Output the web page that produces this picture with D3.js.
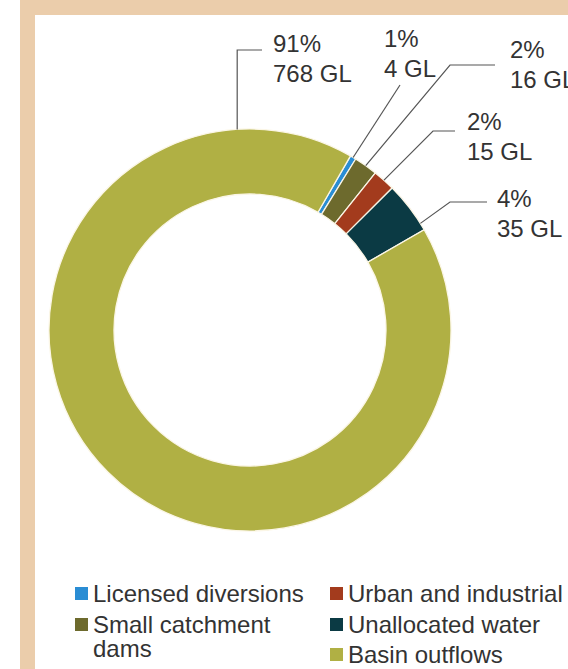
<!DOCTYPE html>
<html>
<head>
<meta charset="utf-8">
<script src="https://cdn.jsdelivr.net/npm/d3@7"></script>
<style>
  html, body { margin: 0; padding: 0; background: #ffffff; }
  svg { display: block; }
  text { font-family: "Liberation Sans", Arial, Helvetica, sans-serif; fill: #333333; }
</style>
</head>
<body>
<svg id="chart" width="568" height="669"></svg>
<script>
// Water use shares, in clockwise order from the first small slice
const categories = ["Licensed diversions", "Small catchment dams", "Urban and industrial", "Unallocated water", "Basin outflows"];
const volumesGL = [4, 16, 15, 35, 768];
const percents = [1, 2, 2, 4, 91];
const palette = ["#2a8dd4", "#6d6a2d", "#a33b1d", "#0b3a44", "#b0b044"];

const W = 568, H = 669;
const svg = d3.select("#chart");

// Frame: beige band on the top and left of the white panel
const frameColor = "#ebcdab";
svg.append("rect").attr("x", 20).attr("y", 0).attr("width", W - 20).attr("height", 15).attr("fill", frameColor);
svg.append("rect").attr("x", 20).attr("y", 0).attr("width", 15).attr("height", H).attr("fill", frameColor);

// Donut
const cx = 250, cy = 330, outerR = 201, innerR = 136;
const start = 30 * Math.PI / 180;
const pie = d3.pie().sort(null).value(d => d).startAngle(start).endAngle(start + 2 * Math.PI);
const arcs = pie(volumesGL);
const arc = d3.arc().innerRadius(innerR).outerRadius(outerR);

const g = svg.append("g").attr("transform", `translate(${cx},${cy})`);
g.selectAll("path.slice")
  .data(arcs)
  .join("path")
  .attr("class", "slice")
  .attr("d", arc)
  .attr("fill", (d, i) => palette[i])
  .attr("stroke", "#fbf6e6")
  .attr("stroke-width", 1.3);

// Leader lines and value labels
const leaders = [
  { frac: 0.5,  elbowX: 400,  elbowY: 85,  endX: null, textX: 384, textY: 47 },
  { frac: 0.5,  elbowX: 450,  elbowY: 65,  endX: 495,  textX: 510, textY: 58 },
  { frac: 0.5,  elbowX: 433,  elbowY: 131, endX: 455,  textX: 467, textY: 130 },
  { frac: 0.86, elbowX: 450,  elbowY: 202, endX: 487,  textX: 497, textY: 207 },
  { frac: 0.898, elbowX: null, elbowY: 50, endX: 262,  textX: 273, textY: 52 }
];
const lineGap = 30;

arcs.forEach((a, i) => {
  const L = leaders[i];
  const ang = a.startAngle + (a.endAngle - a.startAngle) * L.frac;
  const sx = cx + outerR * Math.sin(ang);
  const sy = cy - outerR * Math.cos(ang);
  const ex = L.elbowX == null ? sx : L.elbowX;
  const pts = [[sx, sy], [ex, L.elbowY]];
  if (L.endX != null) pts.push([L.endX, L.elbowY]);
  svg.append("path")
    .attr("d", d3.line()(pts))
    .attr("fill", "none")
    .attr("stroke", "#555555")
    .attr("stroke-width", 1.2);
  const t = svg.append("text").attr("font-size", 24);
  t.append("tspan").attr("x", L.textX).attr("y", L.textY).text(`${percents[i]}%`);
  t.append("tspan").attr("x", L.textX).attr("y", L.textY + lineGap).text(`${volumesGL[i]} GL`);
});

// Legend: two columns
const legendColumns = [
  { x: 75, items: [0, 1] },
  { x: 330, items: [2, 3, 4] }
];
const rowY = [602, 633, 663];
const wrapWidth = 225;
const wrapGap = 24;
const sq = 13;

legendColumns.forEach(col => {
  col.items.forEach((idx, r) => {
    const y = rowY[r];
    svg.append("rect")
      .attr("x", col.x).attr("y", y - 8.5 - sq / 2)
      .attr("width", sq).attr("height", sq)
      .attr("fill", palette[idx]);
    const t = svg.append("text").attr("font-size", 24).attr("x", col.x + 18).attr("y", y);
    // simple word wrap
    const words = categories[idx].split(" ");
    let line = [];
    let tspan = t.append("tspan").attr("x", col.x + 18).attr("y", y);
    let lineNo = 0;
    words.forEach(w => {
      line.push(w);
      tspan.text(line.join(" "));
      if (tspan.node().getComputedTextLength() > wrapWidth && line.length > 1) {
        line.pop();
        tspan.text(line.join(" "));
        line = [w];
        lineNo++;
        tspan = t.append("tspan").attr("x", col.x + 18).attr("y", y + lineNo * wrapGap).text(w);
      }
    });
  });
});
</script>
</body>
</html>
